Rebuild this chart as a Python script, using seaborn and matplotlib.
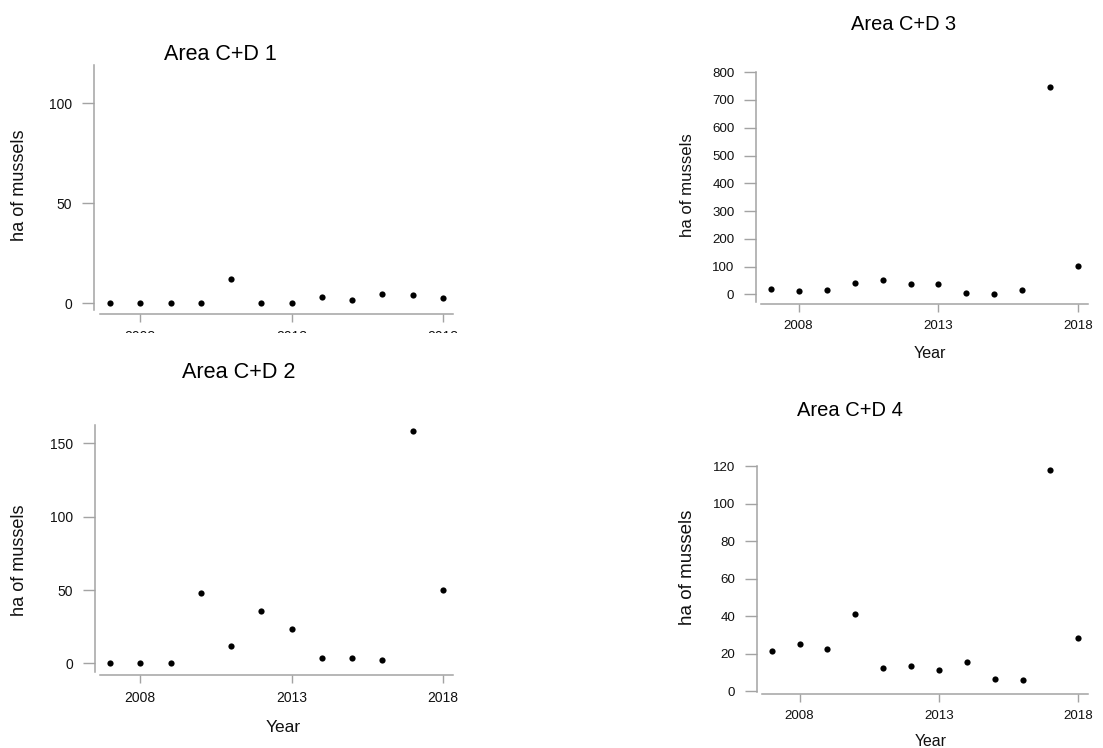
import matplotlib
matplotlib.use("Agg")
import matplotlib.pyplot as plt
import seaborn as sns
from matplotlib.patches import Rectangle

# ---- data ----
years = [2007, 2008, 2009, 2010, 2011, 2012, 2013, 2014, 2015, 2016, 2017, 2018]
area1 = [0, 0, 0, 0, 12, 0, 0, 3.3, 1.5, 4.7, 4.2, 2.8]
area2 = [0, 0, 0, 48, 11.6, 35.9, 23.4, 3.4, 3.9, 2.5, 158.4, 50.2]
area3 = [18, 13, 14, 40, 53, 36, 38, 6, 0.5, 15.6, 748, 102]
area4 = [21.3, 25.2, 22.6, 41.1, 12.1, 13.3, 11.2, 15.6, 6.2, 6.0, 117.7, 28.4]
titles = ["Area C+D 1", "Area C+D 2", "Area C+D 3", "Area C+D 4"]
year_ticks = [2008, 2013, 2018]
yticks1 = [0, 50, 100]
yticks2 = [0, 50, 100, 150]
yticks3 = [0, 100, 200, 300, 400, 500, 600, 700, 800]
yticks4 = [0, 20, 40, 60, 80, 100, 120]
ylabel = "ha of mussels"
xlabel = "Year"

sns.set_theme(style="white")
plt.rcParams['font.family'] = ['Liberation Sans', 'DejaVu Sans']

W, H = 1103, 748
fig = plt.figure(figsize=(W / 100, H / 100), dpi=100)
GRAY = "#a3a3a3"
TXT = "#111111"


def make_ax(x0, x1, y0, y1):
    return fig.add_axes([x0 / W, 1 - y1 / H, (x1 - x0) / W, (y1 - y0) / H])


def ax_coords(px, py, box):
    x0, x1, y0, y1 = box
    return (px - x0) / (x1 - x0), (y1 - py) / (y1 - y0)


panels = [
    dict(vals=area1, title=titles[0], yt=yticks1, box=(100, 453, 65, 310),
         xlim=(2006.67, 2018.33), ylim=(-3.35, 119.15), off=(6, 4),
         tpos=(220, 55), tfs=15.5, ylpos=(20, 185), ylfs=13.1,
         xlpos=None, xlfs=12.5, tickfs=10),
    dict(vals=area2, title=titles[1], yt=yticks2, box=(100, 453, 425, 672),
         xlim=(2006.67, 2018.33), ylim=(-5.9, 162.5), off=(5, 3),
         tpos=(239, 372), tfs=15.6, ylpos=(20, 560), ylfs=13.1,
         xlpos=(283, 727), xlfs=12.5, tickfs=10),
    dict(vals=area3, title=titles[2], yt=yticks3, box=(761, 1088, 72, 302),
         xlim=(2006.653, 2018.348), ylim=(-27.7, 800.8), off=(5, 2.3),
         tpos=(904, 25), tfs=14.4, ylpos=(688, 185), ylfs=12.1,
         xlpos=(930, 353), xlfs=11.6, tickfs=9.6),
    dict(vals=area4, title=titles[3], yt=yticks4, box=(762, 1088, 466, 692),
         xlim=(2006.652, 2018.35), ylim=(-0.53, 120), off=(5, 2.3),
         tpos=(849.5, 410), tfs=14.5, ylpos=(688, 567), ylfs=13.5,
         xlpos=(931, 742), xlfs=11.4, tickfs=9.6),
]

for p in panels:
    ax = make_ax(*p["box"])
    sns.scatterplot(x=years, y=p["vals"], ax=ax, color="black", s=20,
                    edgecolor="black", linewidth=0, legend=False)
    ax.set_xlim(*p["xlim"])
    ax.set_ylim(*p["ylim"])
    ax.set_xticks(year_ticks)
    ax.set_yticks(p["yt"])
    ax.set_xticklabels([str(y) for y in year_ticks])
    sns.despine(ax=ax)
    ax.spines["left"].set_position(("outward", p["off"][0] * 0.72))
    ax.spines["bottom"].set_position(("outward", p["off"][1] * 0.72))
    for s in ("left", "bottom"):
        ax.spines[s].set_color(GRAY)
        ax.spines[s].set_linewidth(1.1)
    ax.tick_params(axis="y", length=8.6, width=1, color=GRAY, pad=7,
                   labelsize=p["tickfs"], labelcolor=TXT, left=True)
    ax.tick_params(axis="x", length=6, width=1, color=GRAY, pad=5.5,
                   labelsize=p["tickfs"], labelcolor=TXT, bottom=True)
    tx, ty = ax_coords(*p["tpos"], p["box"])
    ax.set_title(p["title"], x=tx, y=ty, pad=0, va="center",
                 fontsize=p["tfs"], color="black")
    ax.set_ylabel(ylabel, fontsize=p["ylfs"], va="center", color=TXT)
    ax.yaxis.set_label_coords(*ax_coords(*p["ylpos"], p["box"]))
    if p["xlpos"] is not None:
        ax.set_xlabel(xlabel, fontsize=p["xlfs"], va="center", color=TXT)
        ax.xaxis.set_label_coords(*ax_coords(*p["xlpos"], p["box"]))
    else:
        ax.set_xlabel("")
    ax.set_facecolor("white")

# the first panel's tick labels are cut off in the source image
fig.add_artist(Rectangle((0, 1 - 358 / H), 480 / W, (358 - 332.5) / H,
                         transform=fig.transFigure, facecolor="white",
                         edgecolor="none", zorder=10))

fig.savefig("out.png", dpi=100, facecolor="white")
